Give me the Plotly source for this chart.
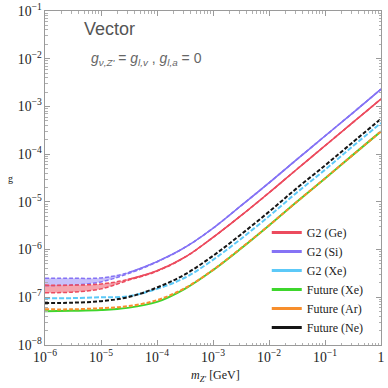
import plotly.graph_objects as go

# Z' mass grid (GeV) and coupling limits
m_zp = [1e-6, 3e-6, 1e-5, 3e-5, 1e-4, 3.2e-4, 1e-3, 3e-3, 1e-2, 3e-2, 1e-1, 3e-1, 1.0]

si_upper = [2.5e-7, 2.5e-7, 2.55e-7, 3.25e-7, 5.6e-7, 1.12e-6, 2.8e-6, 7.9e-6, 2.5e-5, 7.4e-5, 2.4e-4, 7.0e-4, 2.3e-3]
si_lower = [1.75e-7, 1.8e-7, 2.1e-7, 3.1e-7, 5.5e-7, 1.12e-6, 2.8e-6, 7.9e-6, 2.5e-5, 7.4e-5, 2.4e-4, 7.0e-4, 2.3e-3]
ge_upper = [1.8e-7, 1.8e-7, 1.9e-7, 2.35e-7, 3.6e-7, 7.0e-7, 1.8e-6, 4.9e-6, 1.55e-5, 4.6e-5, 1.5e-4, 4.4e-4, 1.43e-3]
ge_lower = [1.25e-7, 1.28e-7, 1.5e-7, 2.25e-7, 3.5e-7, 7.0e-7, 1.8e-6, 4.9e-6, 1.55e-5, 4.6e-5, 1.5e-4, 4.4e-4, 1.43e-3]
g2_xe = [9.6e-8, 9.6e-8, 1.0e-7, 1.05e-7, 1.5e-7, 2.6e-7, 6.1e-7, 1.6e-6, 5.0e-6, 1.5e-5, 4.7e-5, 1.4e-4, 4.5e-4]
fut_ne = [7.6e-8, 7.7e-8, 8.3e-8, 1.0e-7, 1.6e-7, 3.05e-7, 7.4e-7, 1.98e-6, 6.2e-6, 1.85e-5, 5.8e-5, 1.7e-4, 5.5e-4]
fut_ar = [5.6e-8, 5.6e-8, 5.9e-8, 6.5e-8, 8.7e-8, 1.57e-7, 3.75e-7, 1.02e-6, 3.2e-6, 9.6e-6, 3.1e-5, 9.2e-5, 3.0e-4]
fut_xe = [5.1e-8, 5.2e-8, 5.4e-8, 6.0e-8, 8.0e-8, 1.52e-7, 3.7e-7, 1.0e-6, 3.2e-6, 9.6e-6, 3.1e-5, 9.2e-5, 3.0e-4]

RED = "#EC4B5E"
PURPLE = "#8573F5"
CYAN = "#5CC9F8"
GREEN = "#3ED62C"
ORANGE = "#F78E2C"
BLACK = "#151515"

fig = go.Figure()


def band(upper, lower, color, fill):
    fig.add_trace(go.Scatter(x=m_zp, y=lower, mode="lines", line=dict(color=color, width=1.5, dash="4px,2px", shape="spline"),
                             showlegend=False, hoverinfo="skip"))
    fig.add_trace(go.Scatter(x=m_zp, y=upper, mode="lines", line=dict(color=color, width=1.5, dash="4px,2px", shape="spline"),
                             fill="tonexty", fillcolor=fill, showlegend=False, hoverinfo="skip"))
    # merged part looks solid
    fig.add_trace(go.Scatter(x=m_zp[3:], y=upper[3:], mode="lines", line=dict(color=color, width=1.5, shape="spline"),
                             showlegend=False, hoverinfo="skip"))


band(si_upper, si_lower, PURPLE, "rgba(133,115,245,0.45)")
band(ge_upper, ge_lower, RED, "rgba(236,75,94,0.5)")


def curve(y, color, dash):
    fig.add_trace(go.Scatter(x=m_zp, y=y, mode="lines", line=dict(color=color, width=2, dash=dash, shape="spline"),
                             showlegend=False, hoverinfo="skip"))


curve(g2_xe, CYAN, "5px,2px")
curve(fut_xe, GREEN, "solid")
curve(fut_ar, ORANGE, "4px,2px")
curve(fut_ne, BLACK, "4px,2px")

# legend entries (solid swatches)
for name, color in [("G2 (Ge)", RED), ("G2 (Si)", PURPLE), ("G2 (Xe)", CYAN),
                    ("Future (Xe)", GREEN), ("Future (Ar)", ORANGE), ("Future (Ne)", BLACK)]:
    fig.add_trace(go.Scatter(x=[None], y=[None], mode="lines", name=name, line=dict(color=color, width=3)))

axis_common = dict(
    type="log", showgrid=False, zeroline=False, showline=True, linecolor="#9a9a9a", linewidth=1,
    mirror="allticks", ticks="inside", ticklen=5, tickcolor="#9a9a9a", dtick=1,
    exponentformat="power", showexponent="all", automargin=False, ticklabeloverflow="allow",
    tickfont=dict(family="Liberation Serif", size=11, color="#222"),
    minor=dict(ticks="inside", ticklen=2.5, tickcolor="#b0b0b0", dtick="D1", showgrid=False),
)

fig.update_xaxes(range=[-6, 0], **axis_common)
fig.update_yaxes(range=[-8, -1], **axis_common)

fig.add_annotation(x=0.506, y=-0.093, xref="paper", yref="paper",
                   text="<i>m</i><sub><i>Z'</i></sub> [GeV]", showarrow=False, xanchor="center", yanchor="middle",
                   font=dict(family="Liberation Serif", size=12, color="#222"))
fig.add_annotation(x=-0.104, y=0.5, xref="paper", yref="paper", text="g",
                   showarrow=False, xanchor="center", yanchor="middle",
                   font=dict(family="Liberation Serif", size=10, color="#222"))

fig.add_annotation(x=0.11, y=0.945, xref="paper", yref="paper", text="Vector", showarrow=False,
                   xanchor="left", yanchor="middle", font=dict(family="Liberation Sans", size=18, color="#555"))
fig.add_annotation(x=0.13, y=0.857, xref="paper", yref="paper",
                   text="<i>g</i><sub><i>ν,Z'</i></sub> = <i>g</i><sub><i>l,v</i></sub> , <i>g</i><sub><i>l,a</i></sub> = 0",
                   showarrow=False, xanchor="left", yanchor="middle",
                   font=dict(family="Liberation Sans", size=14, color="#666"))

fig.update_layout(
    width=388, height=388,
    margin=dict(l=45, r=7, t=11, b=43),
    paper_bgcolor="white", plot_bgcolor="white",
    legend=dict(x=0.66, y=0.38, xanchor="left", yanchor="top", bgcolor="rgba(0,0,0,0)", traceorder="normal",
                font=dict(family="Liberation Serif", size=12, color="#222"), tracegroupgap=0, itemwidth=30),
)

# drop the default 8px page margin so the figure sits at the window corner
fig.write_html("out.html", config={"displayModeBar": False},
               post_script="document.body.style.margin='0px';")
